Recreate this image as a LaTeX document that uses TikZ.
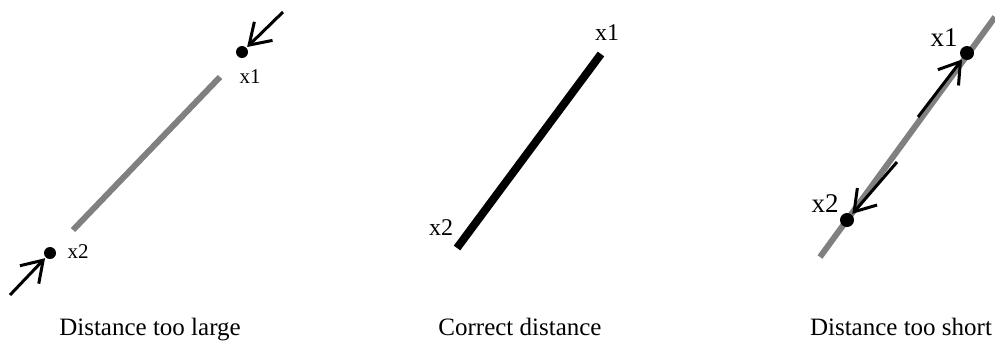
\documentclass[tikz,border=0pt]{standalone}
\usepackage{fontspec}
\setmainfont{Liberation Serif}
\usetikzlibrary{arrows.meta, positioning}

\begin{document}
\begin{tikzpicture}[
  x=1pt, y=-1pt,
  dot/.style={circle, fill=black, inner sep=0pt, minimum size=12pt},
  bar/.style={line width=6pt, draw=black!50},
  good/.style={line width=8pt, draw=black},
  arr/.style={-{Straight Barb[length=20pt, width=26pt, line width=3pt]}, line width=3pt, shorten >=1pt},
  lblS/.style={font=\fontsize{21}{23}\selectfont, inner sep=0pt},
  lblM/.style={font=\fontsize{24}{26}\selectfont, inner sep=0pt},
  lblL/.style={font=\fontsize{27}{29}\selectfont, inner sep=0pt},
  capt/.style={font=\fontsize{25}{28}\selectfont, anchor=base, inner sep=0pt},
]
\useasboundingbox (0,0) rectangle (995,341);

% distance too large
\coordinate (lA) at (73,230);
\coordinate (lB) at (220,77);
\draw[bar] (lA) -- (lB);
\node[dot] (lx1) at (242,52) {};
\node[dot] (lx2) at (50,253) {};
\coordinate (lin1) at (283,12);
\coordinate (lin2) at (10,295);
\draw[arr] (lin1) -- (lx1);
\draw[arr] (lin2) -- (lx2);
\node[lblS] (lt1) at (250,77) {x1};
\node[lblS] (lt2) at (78,252) {x2};
\node[capt] (lcap) at (150,335) {Distance too large};

% correct distance
\coordinate (mA) at (457,248);
\coordinate (mB) at (601,54);
\draw[good] (mA) -- (mB);
\node[lblM] (mt1) at (607,33) {x1};
\node[lblM] (mt2) at (441,228) {x2};
\node[capt] (mcap) at (520,335) {Correct distance};

% distance too short
\coordinate (rA) at (820,257);
\coordinate (rB) at (995,17);
\draw[bar] (rA) -- (rB);
\node[dot, minimum size=14pt] (rx1) at (967,53) {};
\node[dot, minimum size=14pt] (rx2) at (847,220) {};
\coordinate (rout1) at (918,117);
\coordinate (rout2) at (897,162);
\draw[arr] (rout1) -- (rx1);
\draw[arr] (rout2) -- (rx2);
\node[lblL] (rt1) at (944,38) {x1};
\node[lblL] (rt2) at (825,204) {x2};
\node[capt] (rcap) at (901,335) {Distance too short};
\end{tikzpicture}
\end{document}
